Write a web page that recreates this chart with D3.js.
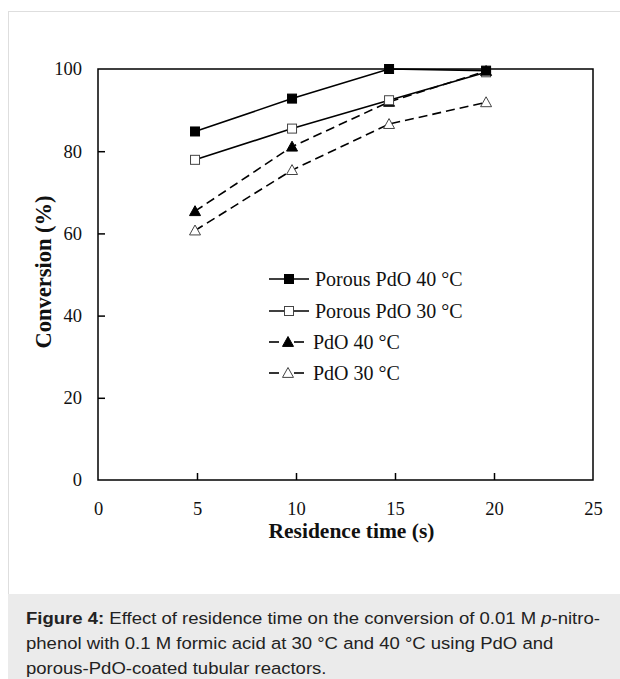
<!DOCTYPE html>
<html>
<head>
<meta charset="utf-8">
<script src="https://cdn.jsdelivr.net/npm/d3@7"></script>
<style>
  body { margin: 0; background: #fff; }
  svg { display: block; }
</style>
</head>
<body>
<svg id="chart" width="620" height="679"></svg>
<script>
// residence times (s)
var times = [4.9, 9.8, 14.7, 19.6];

// conversion (%) for each reactor / temperature
var porous40 = [84.8, 92.8, 100, 99.6];
var porous30 = [77.9, 85.5, 92.4, 99.2];
var pdo40 = [65.4, 81.1, 92.0, 99.5];
var pdo30 = [60.7, 75.4, 86.6, 91.9];

var seriesNames = ["Porous PdO 40 °C", "Porous PdO 30 °C", "PdO 40 °C", "PdO 30 °C"];

var xTicks = [0, 5, 10, 15, 20, 25];
var yTicks = [0, 20, 40, 60, 80, 100];

var caption = [
  [{b: "Figure 4:"}, {t: " Effect of residence time on the conversion of 0.01 M "}, {i: "p"}, {t: "-nitro-"}],
  [{t: "phenol with 0.1 M formic acid at 30 °C and 40 °C using PdO and"}],
  [{t: "porous-PdO-coated tubular reactors."}]
];

var series = [
  {name: seriesNames[0], values: porous40, marker: "square", filled: true, dashed: false},
  {name: seriesNames[1], values: porous30, marker: "square", filled: false, dashed: false},
  {name: seriesNames[2], values: pdo40, marker: "triangle", filled: true, dashed: true},
  {name: seriesNames[3], values: pdo30, marker: "triangle", filled: false, dashed: true}
];

var svg = d3.select("#chart");
var serif = "'Liberation Serif', 'Times New Roman', serif";

// outer figure frame
svg.append("rect")
    .attr("x", 8.5).attr("y", 11.5)
    .attr("width", 640).attr("height", 700)
    .attr("fill", "#fff")
    .attr("stroke", "#dedede");

// caption panel
svg.append("rect")
    .attr("x", 8).attr("y", 594)
    .attr("width", 612).attr("height", 85)
    .attr("fill", "#ebebeb");

// text in the source is a bit wider than Liberation Sans, so stretch it
var cap = svg.append("g")
    .attr("transform", "translate(26,0) scale(1.09,1)")
    .append("text")
    .style("font-family", "'Liberation Sans', Arial, sans-serif")
    .style("font-size", "17px")
    .attr("fill", "#222");
caption.forEach(function (line, i) {
    var first = true;
    line.forEach(function (part) {
        var ts = cap.append("tspan");
        if (first) { ts.attr("x", 0).attr("y", 624 + i * 25); first = false; }
        if (part.b) ts.style("font-weight", "bold").text(part.b);
        else if (part.i) ts.style("font-style", "italic").text(part.i);
        else ts.text(part.t);
    });
});

// plot area
var x = d3.scaleLinear().domain([0, 25]).range([98, 593]);
var y = d3.scaleLinear().domain([0, 100]).range([480, 69]);

var g = svg.append("g");

// frame
g.append("rect")
    .attr("x", x(0)).attr("y", y(100))
    .attr("width", x(25) - x(0)).attr("height", y(0) - y(100))
    .attr("fill", "none")
    .attr("stroke", "#000")
    .attr("stroke-width", 1.5);

var xAxis = d3.axisBottom(x).tickValues(xTicks).tickSize(-7).tickPadding(22);
var yAxis = d3.axisLeft(y).tickValues(yTicks).tickSize(-7).tickPadding(16);

var xa = g.append("g").attr("transform", "translate(0," + y(0) + ")").call(xAxis);
var ya = g.append("g").attr("transform", "translate(" + x(0) + ",0)").call(yAxis);
[xa, ya].forEach(function (a) {
    a.attr("font-family", serif).attr("font-size", 18.5);
    a.select(".domain").remove();
    a.selectAll(".tick line").attr("stroke", "#000").attr("stroke-width", 1.5);
    a.selectAll(".tick text")
        .style("font-family", serif)
        .style("font-size", "18.5px")
        .attr("fill", "#111");
});
xa.selectAll(".tick line").filter(function (d) { return d === 0 || d === 25; }).remove();
ya.selectAll(".tick line").filter(function (d) { return d === 0 || d === 100; }).remove();

// axis titles
svg.append("text")
    .attr("x", 351.5)
    .attr("y", 538)
    .attr("text-anchor", "middle")
    .style("font-family", serif)
    .style("font-weight", "bold")
    .style("font-size", "21.5px")
    .attr("fill", "#111")
    .text("Residence time (s)");

svg.append("text")
    .attr("transform", "translate(51,272) rotate(-90)")
    .attr("text-anchor", "middle")
    .style("font-family", serif)
    .style("font-weight", "bold")
    .style("font-size", "22.5px")
    .attr("fill", "#111")
    .text("Conversion (%)");

// markers
function drawMarker(sel, s, cx, cy) {
    if (s.marker === "square") {
        sel.append("rect")
            .attr("x", cx - 4.5).attr("y", cy - 4.5)
            .attr("width", 9).attr("height", 9)
            .attr("fill", s.filled ? "#000" : "#fff")
            .attr("stroke", s.filled ? "#000" : "#444")
            .attr("stroke-width", 1);
    } else {
        var r = 5.5;
        sel.append("path")
            .attr("d", "M" + cx + "," + (cy - r) + "L" + (cx + r) + "," + (cy + r * 0.8) + "L" + (cx - r) + "," + (cy + r * 0.8) + "Z")
            .attr("fill", s.filled ? "#000" : "#fff")
            .attr("stroke", s.filled ? "#000" : "#444")
            .attr("stroke-width", 1);
    }
}

var line = d3.line()
    .x(function (d, i) { return x(times[i]); })
    .y(function (d) { return y(d); });

// draw dashed series first, solid on top
[3, 2, 1, 0].forEach(function (k) {
    var s = series[k];
    g.append("path")
        .datum(s.values)
        .attr("d", line)
        .attr("fill", "none")
        .attr("stroke", "#000")
        .attr("stroke-width", 1.6)
        .attr("stroke-dasharray", s.dashed ? "9,5" : null);
});
[3, 2, 1, 0].forEach(function (k) {
    var s = series[k];
    s.values.forEach(function (v, i) {
        drawMarker(g, s, x(times[i]), y(v));
    });
});

// legend
var legY = [279, 311, 342, 373];
var leg = svg.append("g");
series.forEach(function (s, i) {
    var ly = legY[i];
    if (s.dashed) {
        leg.append("line").attr("x1", 269).attr("x2", 279).attr("y1", ly).attr("y2", ly)
            .attr("stroke", "#000").attr("stroke-width", 1.6);
        leg.append("line").attr("x1", 294).attr("x2", 304).attr("y1", ly).attr("y2", ly)
            .attr("stroke", "#000").attr("stroke-width", 1.6);
        drawMarker(leg, s, 288, ly);
    } else {
        leg.append("line").attr("x1", 269).attr("x2", 309).attr("y1", ly).attr("y2", ly)
            .attr("stroke", "#000").attr("stroke-width", 1.6);
        drawMarker(leg, s, 289, ly);
    }
    leg.append("text")
        .attr("x", s.dashed ? 313 : 315)
        .attr("y", ly + 7)
        .style("font-family", serif)
        .style("font-size", "20px")
        .attr("fill", "#111")
        .text(s.name);
});
</script>
</body>
</html>
